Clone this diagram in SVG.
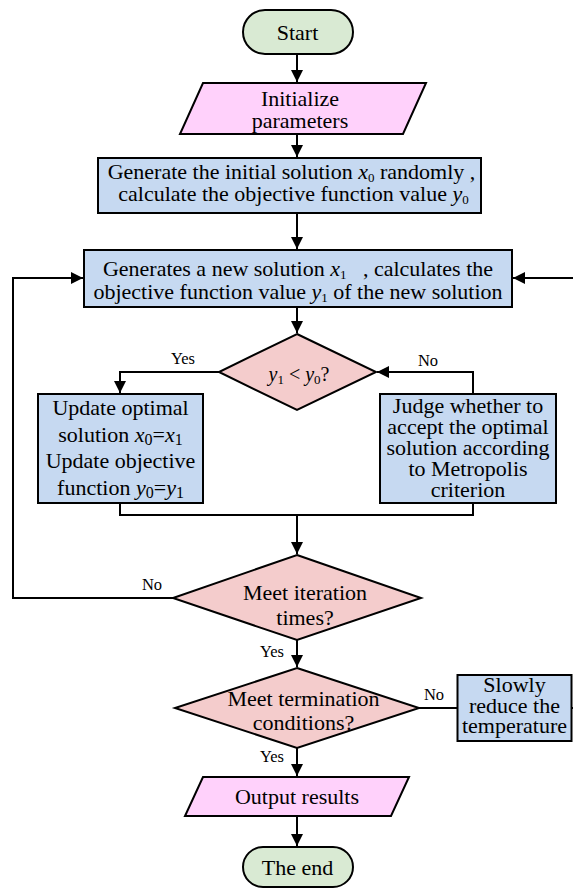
<svg xmlns="http://www.w3.org/2000/svg" width="573" height="888" viewBox="0 0 573 888" font-family="'Liberation Serif', 'Times New Roman', 'DejaVu Serif', serif">
<style>
text{font-family:'Liberation Serif','Times New Roman','DejaVu Serif',serif;font-size:22px;fill:#000;text-anchor:middle}
.lbl{font-size:16.5px}
.term{fill:#d9ead3;stroke:#000;stroke-width:2}
.io{fill:#ffd1fb;stroke:#000;stroke-width:2}
.proc{fill:#c6d9f1;stroke:#000;stroke-width:2}
.dec{fill:#f4cccc;stroke:#000;stroke-width:2}
.ln{fill:none;stroke:#000;stroke-width:2}
.it{font-style:italic}
.sub{font-size:13px}
.sub2{font-size:16px}
</style>
<defs>
<marker id="ah" markerWidth="12" markerHeight="12" refX="12" refY="6" orient="auto" markerUnits="userSpaceOnUse">
<path d="M0,0 L12,6 L0,12 z" fill="#000"/>
</marker>
</defs>
<g id="connectors">
<path class="ln" d="M297,54 V82" marker-end="url(#ah)"/>
<path class="ln" d="M297,134 V157" marker-end="url(#ah)"/>
<path class="ln" d="M297,213 V249" marker-end="url(#ah)"/>
<path class="ln" d="M297,307 V333" marker-end="url(#ah)"/>
<path class="ln" d="M219,372 H120 V393" marker-end="url(#ah)"/>
<path class="ln" d="M473,394 V372 H377" marker-end="url(#ah)"/>
<path class="ln" d="M120,503 V515 H473 V503"/>
<path class="ln" d="M297,515 V554" marker-end="url(#ah)"/>
<path class="ln" d="M173,598 H13 V278 H83" marker-end="url(#ah)"/>
<path class="ln" d="M297,640 V667" marker-end="url(#ah)"/>
<path class="ln" d="M419,708 H457"/>
<path class="ln" d="M571,708 H590 V278 H513" marker-end="url(#ah)"/>
<path class="ln" d="M297,748 V776" marker-end="url(#ah)"/>
<path class="ln" d="M297,816 V846" marker-end="url(#ah)"/>
<text class="lbl" x="183" y="364">Yes</text>
<text class="lbl" x="428" y="366">No</text>
<text class="lbl" x="152" y="590">No</text>
<text class="lbl" x="272" y="657">Yes</text>
<text class="lbl" x="434" y="700">No</text>
<text class="lbl" x="272" y="762">Yes</text>
</g>
<g id="start">
<rect class="term" x="243" y="10" width="110" height="44" rx="22"/>
<text x="297.5" y="40">Start</text>
</g>
<g id="init">
<polygon class="io" points="203,83 426,83 403,134 180,134"/>
<text><tspan x="300" y="106">Initialize</tspan><tspan x="300" y="128">parameters</tspan></text>
</g>
<g id="gen-initial">
<rect class="proc" x="98" y="158" width="383" height="55"/>
<text><tspan x="291.5" y="179">Generate the initial solution <tspan class="it">x</tspan><tspan class="sub" dy="3">0</tspan><tspan dy="-3"> randomly ,</tspan></tspan><tspan x="293.5" y="201">calculate the objective function value <tspan class="it">y</tspan><tspan class="sub" dy="3">0</tspan></tspan></text>
</g>
<g id="gen-new">
<rect class="proc" x="84" y="250" width="428" height="57"/>
<text><tspan x="298" y="276">Generates a new solution <tspan class="it">x</tspan><tspan class="sub" dy="3">1</tspan><tspan dy="-3">&#160;&#160; , calculates the</tspan></tspan><tspan x="298" y="299">objective function value <tspan class="it">y</tspan><tspan class="sub" dy="3">1</tspan><tspan dy="-3"> of the new solution</tspan></tspan></text>
</g>
<g id="cmp">
<polygon class="dec" points="297,334 376,372 297,410 219,372"/>
<text x="299" y="381" style="font-size:20px"><tspan class="it">y</tspan><tspan class="sub" dy="3">1</tspan><tspan dy="-3"> &lt; </tspan><tspan class="it">y</tspan><tspan class="sub" dy="3">0</tspan><tspan dy="-3">?</tspan></text>
</g>
<g id="update">
<rect class="proc" x="38" y="394" width="165" height="109"/>
<text><tspan x="120.5" y="415">Update optimal</tspan><tspan x="120.5" y="442">solution <tspan class="it">x</tspan><tspan class="sub2" dy="3">0</tspan><tspan dy="-3">=</tspan><tspan class="it">x</tspan><tspan class="sub2" dy="3">1</tspan></tspan><tspan x="120.5" y="468">Update objective</tspan><tspan x="120.5" y="495">function <tspan class="it">y</tspan><tspan class="sub2" dy="3">0</tspan><tspan dy="-3">=</tspan><tspan class="it">y</tspan><tspan class="sub2" dy="3">1</tspan></tspan></text>
</g>
<g id="judge">
<rect class="proc" x="380" y="394" width="176" height="109"/>
<text><tspan x="468" y="413">Judge whether to</tspan><tspan x="468" y="434">accept the optimal</tspan><tspan x="468" y="455">solution according</tspan><tspan x="468" y="476">to Metropolis</tspan><tspan x="468" y="497">criterion</tspan></text>
</g>
<g id="iter">
<polygon class="dec" points="297,555 421,598 297,640 173,598"/>
<text><tspan x="305" y="600">Meet iteration</tspan><tspan x="305" y="625">times?</tspan></text>
</g>
<g id="termcheck">
<polygon class="dec" points="297,668 419,708 297,748 175,708"/>
<text><tspan x="303.5" y="706">Meet termination</tspan><tspan x="303.5" y="730">conditions?</tspan></text>
</g>
<g id="reduce">
<rect class="proc" x="457.5" y="675" width="114" height="66"/>
<text><tspan x="514.5" y="692">Slowly</tspan><tspan x="514.5" y="713">reduce the</tspan><tspan x="514.5" y="733">temperature</tspan></text>
</g>
<g id="output">
<polygon class="io" points="203,777 409,777 391,816 185,816"/>
<text x="297" y="804">Output results</text>
</g>
<g id="end">
<rect class="term" x="243" y="847" width="110" height="40" rx="20"/>
<text x="297.5" y="875">The end</text>
</g>
</svg>
